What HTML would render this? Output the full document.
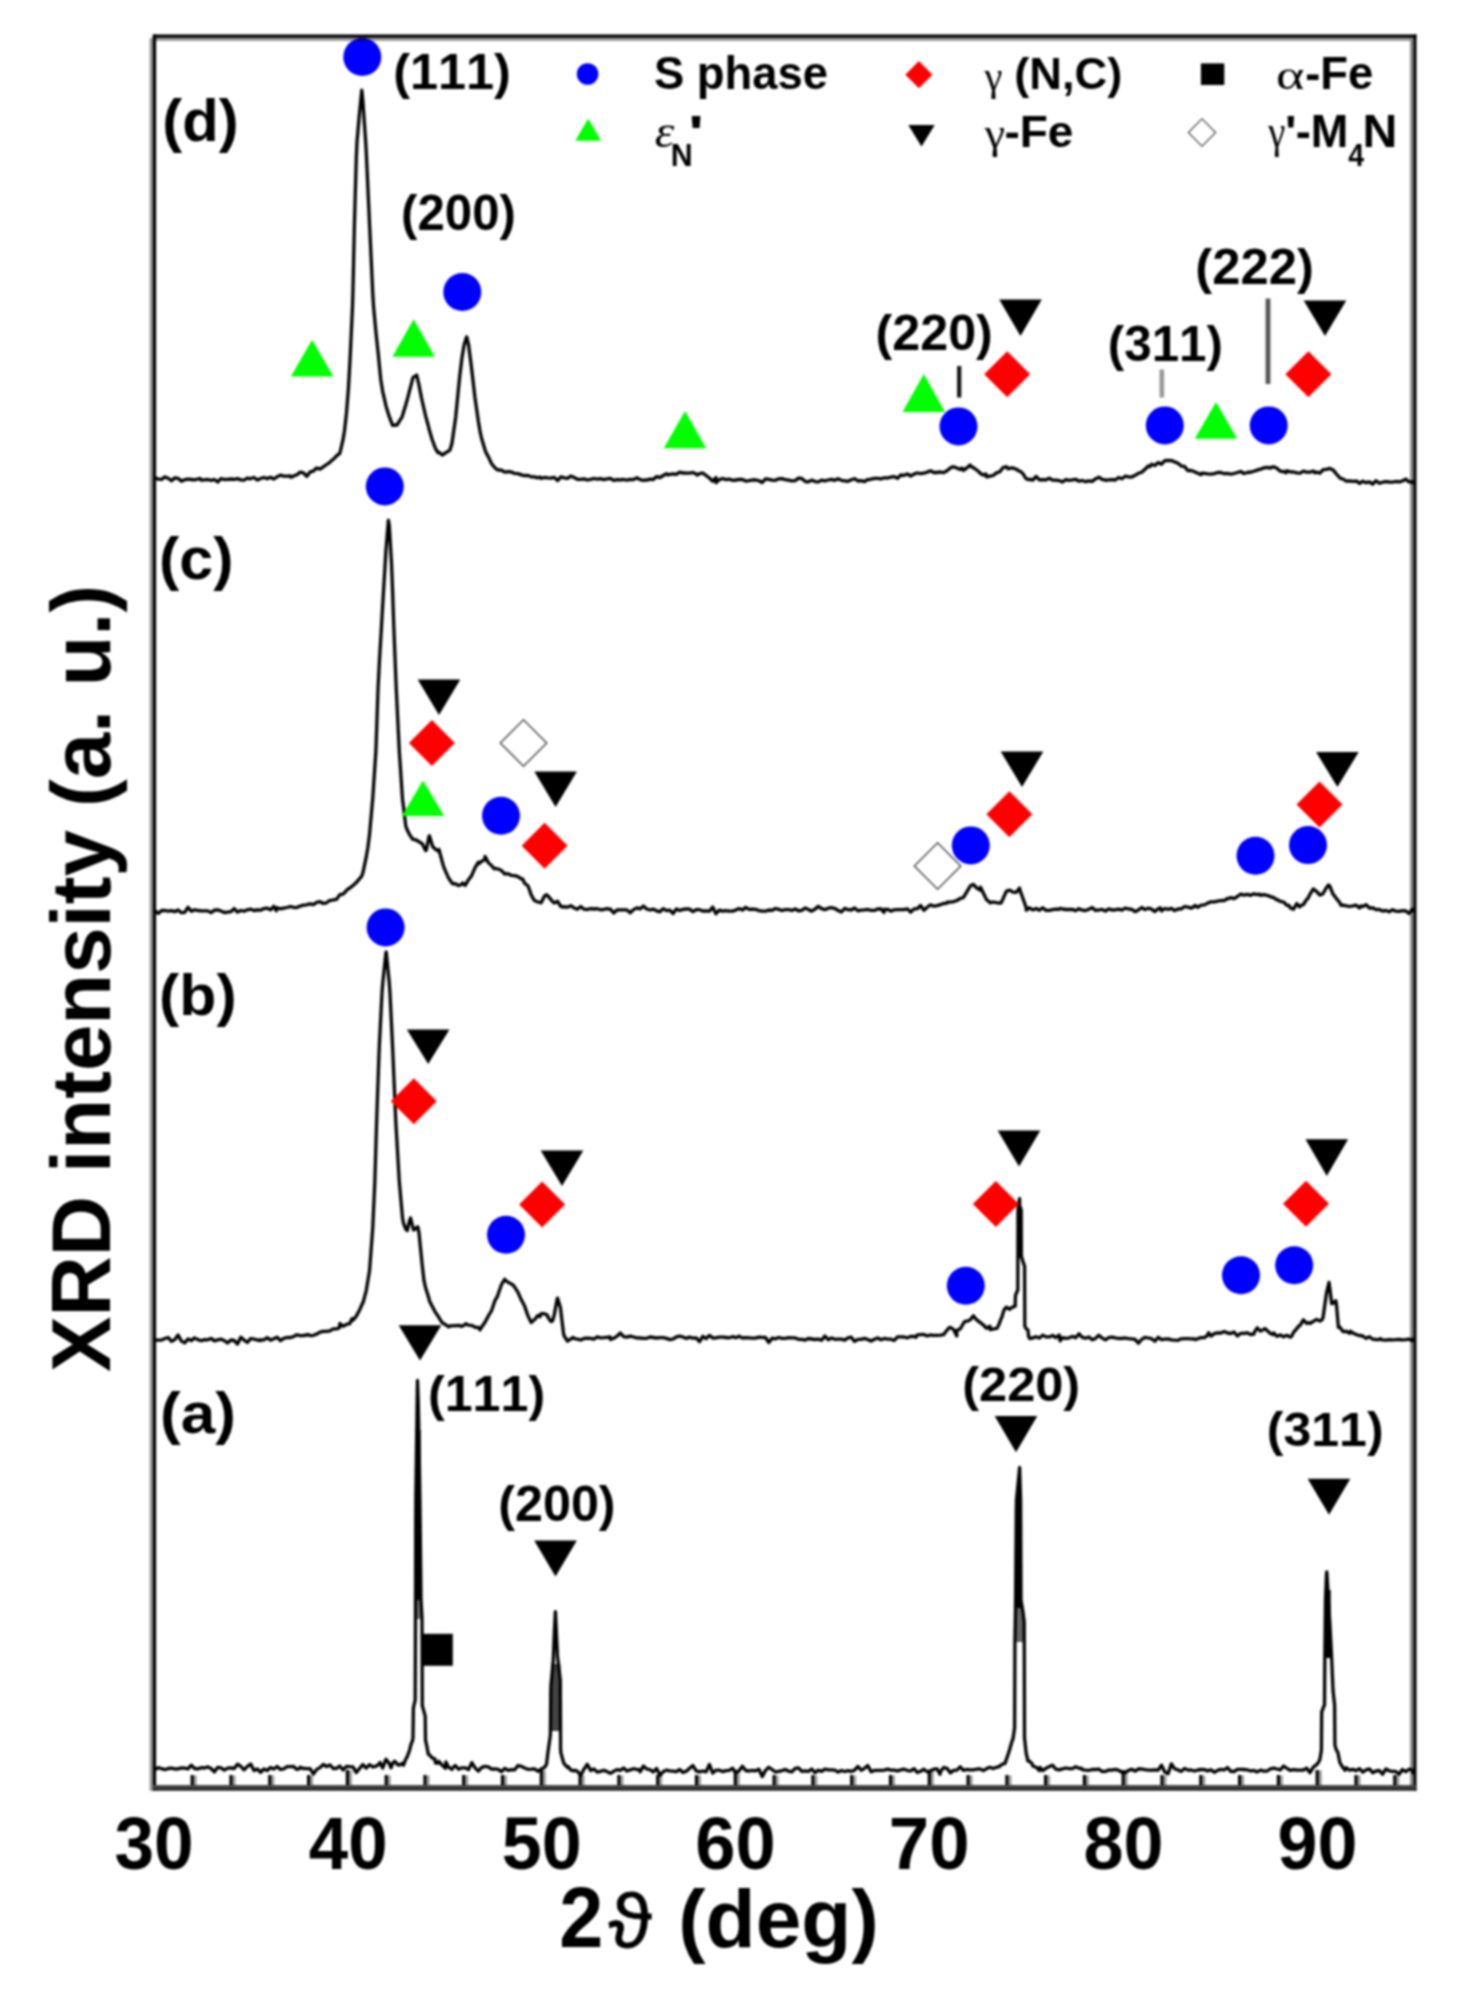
<!DOCTYPE html>
<html lang="en"><head><meta charset="utf-8"><title>XRD patterns</title>
<style>
html,body{margin:0;padding:0;background:#fff;}
body{width:1457px;height:2001px;overflow:hidden;}
svg{display:block;filter:blur(0.8px);}
text{font-kerning:none;}
</style></head><body>
<svg width="1457" height="2001" viewBox="0 0 1457 2001">
<rect width="1457" height="2001" fill="#fff"/>
<rect x="415.6" y="1430" width="5" height="172" fill="#000"/>
<rect x="416" y="1600" width="5.4" height="19" fill="#777"/>
<rect x="551" y="1664" width="9.4" height="67" fill="#444"/>
<rect x="1016.5" y="1490" width="4.6" height="122" fill="#000"/>
<rect x="1015" y="1608" width="8" height="34" fill="#666"/>
<rect x="1325.2" y="1590" width="5.5" height="68" fill="#000"/>
<rect x="1017.8" y="1208" width="3.8" height="50" fill="#000"/>
<path d="M155.0 477.9L158.3 479.1L161.6 479.3L164.9 476.9L168.2 478.3L171.5 480.8L174.8 477.8L178.1 478.3L181.4 481.2L184.7 479.7L188.0 479.2L191.3 479.5L194.6 479.8L197.9 479.0L200.0 478.5L201.2 480.2L204.5 479.8L207.8 479.5L211.1 480.3L214.4 479.5L217.7 482.0L221.0 478.7L224.3 479.5L227.6 479.3L230.9 479.0L234.2 479.4L237.5 478.6L240.8 479.9L244.1 480.2L247.4 478.0L250.0 478.9L250.7 478.5L254.0 477.5L257.3 480.0L260.6 478.5L263.9 477.5L267.2 478.6L270.5 477.3L273.8 479.0L277.1 476.8L280.4 475.1L283.7 476.1L287.0 476.2L290.3 476.0L291.0 477.2L293.6 476.0L296.9 474.8L300.2 472.1L303.5 472.9L306.8 476.3L310.1 471.9L313.4 471.2L316.0 468.5L316.7 468.0L320.0 469.1L323.3 466.8L326.6 464.5L329.9 462.3L332.0 460.0L333.2 459.5L336.5 455.9L339.8 453.4L340.0 452.6L343.1 439.4L344.5 430.7L346.4 413.7L348.4 388.8L349.7 366.1L350.4 352.1L352.5 306.9L353.0 288.8L354.4 225.0L356.3 158.0L357.0 141.8L359.6 111.9L359.6 112.1L361.8 90.2L362.9 101.4L363.6 111.9L365.7 142.0L366.2 150.9L369.5 223.1L369.6 225.1L372.8 294.2L373.6 307.0L376.1 333.9L378.4 355.1L379.4 365.8L380.8 379.7L382.7 391.5L383.0 392.9L386.0 405.9L388.5 414.2L389.3 416.7L392.6 425.3L392.6 425.4L395.9 425.0L397.0 425.2L399.2 421.4L402.0 417.1L402.5 415.5L405.8 404.8L407.7 397.9L409.1 392.4L412.4 379.8L413.0 377.4L415.7 375.8L416.7 375.1L419.0 385.1L421.4 397.4L422.3 401.5L425.6 415.9L428.0 424.5L428.9 428.5L432.2 439.7L435.5 448.6L437.9 452.6L438.8 452.1L442.1 455.0L443.4 454.4L445.4 452.9L448.7 451.0L450.0 450.0L452.0 443.0L455.3 419.9L455.7 417.0L458.6 387.4L459.8 375.5L461.9 358.2L464.0 345.5L465.2 341.3L466.7 336.9L468.5 344.3L470.8 362.0L471.8 370.2L475.0 397.9L475.1 398.5L478.4 421.6L480.4 433.2L481.7 438.8L485.0 449.8L486.0 452.6L488.3 456.6L491.6 463.7L494.9 467.8L497.0 469.6L498.2 470.0L501.5 470.2L504.8 472.1L508.1 471.6L511.4 471.8L513.0 472.8L514.7 473.3L518.0 473.6L521.3 474.9L524.6 475.6L527.9 475.5L531.2 476.8L534.5 476.8L537.8 477.8L540.0 477.1L541.1 478.3L544.4 477.5L547.7 477.9L551.0 478.2L551.6 477.9L554.3 477.4L557.6 480.6L560.9 476.8L564.2 477.9L567.5 478.4L570.8 476.1L574.1 477.5L577.4 479.3L580.7 479.3L584.0 478.9L587.3 480.0L590.6 479.4L593.9 478.5L597.2 479.2L600.5 478.7L603.8 479.6L607.1 478.9L610.4 478.3L613.7 480.4L617.0 479.7L620.3 479.9L623.6 479.5L626.9 480.1L630.2 479.3L633.5 479.6L636.8 477.8L640.1 479.6L643.4 480.3L646.0 479.9L646.7 480.2L650.0 479.2L653.3 479.5L656.6 476.6L659.9 477.6L663.2 475.5L666.5 473.7L668.0 474.9L669.8 474.4L673.1 473.8L676.4 474.4L679.7 472.2L683.0 473.2L684.0 472.8L686.3 473.1L689.6 473.2L692.9 472.5L696.2 473.9L697.0 475.0L699.5 473.7L702.8 473.0L706.1 475.5L709.4 478.0L712.7 481.2L716.0 477.6L716.0 482.7L719.3 479.6L722.6 478.5L725.9 479.6L729.2 479.1L732.5 480.3L735.8 480.0L739.1 479.5L742.4 479.5L745.7 481.1L749.0 480.7L752.3 480.0L755.6 480.0L758.9 480.7L762.2 482.5L765.5 478.8L768.8 479.4L772.1 480.1L775.4 480.3L778.7 478.8L782.0 478.6L785.3 479.7L788.6 480.2L791.9 480.9L795.2 480.6L798.5 478.1L801.8 478.5L804.0 480.3L805.1 481.5L808.4 481.8L811.7 480.1L815.0 481.6L818.3 481.9L821.6 480.2L824.9 480.8L828.2 480.0L831.5 479.3L834.8 480.3L838.1 478.7L841.4 480.4L844.7 480.8L848.0 481.3L851.3 479.8L854.6 478.7L857.9 481.0L861.2 480.7L864.5 481.7L867.0 479.7L867.8 479.8L871.1 479.1L874.4 478.3L877.7 478.4L881.0 478.9L884.3 477.8L887.6 478.0L890.9 477.2L894.2 476.6L897.5 478.3L900.8 475.0L904.1 475.3L907.4 474.0L910.7 476.0L914.0 474.1L915.0 473.7L917.3 473.0L920.6 473.7L923.9 473.2L927.2 472.1L930.5 470.8L933.8 472.5L937.1 472.5L940.4 472.0L943.0 472.7L943.7 472.6L947.0 470.8L950.3 468.0L952.6 466.8L953.6 466.9L956.9 468.0L960.2 469.5L962.0 468.0L963.5 470.4L966.8 467.9L970.1 465.0L971.5 466.7L973.4 467.7L976.7 470.0L980.0 472.8L980.0 473.2L983.3 475.1L985.8 473.9L986.6 476.9L989.9 476.1L993.2 475.5L996.5 472.9L999.8 471.7L1003.1 467.5L1006.4 466.7L1008.0 468.9L1009.7 468.2L1013.0 467.9L1016.3 469.3L1019.6 471.2L1021.0 471.8L1022.9 473.7L1026.2 478.8L1029.0 479.8L1029.5 479.2L1032.8 480.1L1036.1 476.4L1039.4 479.8L1042.7 479.6L1046.0 479.8L1049.3 478.2L1052.6 480.1L1055.9 480.2L1059.2 480.6L1062.5 482.0L1065.8 479.7L1069.1 480.3L1072.4 479.9L1075.7 479.3L1079.0 481.2L1082.3 480.5L1085.6 481.7L1088.9 480.8L1092.2 481.4L1095.5 478.9L1098.8 477.2L1102.1 479.3L1105.0 479.8L1105.4 480.4L1108.7 479.8L1112.0 479.7L1115.3 480.0L1118.6 477.5L1121.9 478.8L1125.2 476.2L1128.5 476.8L1131.0 477.2L1131.8 476.9L1135.1 475.3L1138.4 473.3L1141.7 472.2L1145.0 469.2L1148.3 466.0L1150.0 466.6L1151.6 464.3L1154.9 465.5L1158.2 462.6L1161.5 464.2L1164.8 460.6L1168.1 460.3L1169.7 460.7L1171.4 460.4L1174.7 461.9L1178.0 463.2L1181.3 466.1L1184.6 466.3L1185.8 468.2L1187.9 470.6L1191.2 470.5L1194.5 471.7L1197.8 473.3L1201.1 474.6L1202.0 473.1L1204.4 473.3L1207.7 473.9L1211.0 474.1L1214.3 473.6L1217.6 472.5L1220.9 472.5L1224.2 473.7L1227.5 473.5L1230.8 474.2L1234.1 473.5L1237.4 472.5L1240.7 471.5L1244.0 473.5L1247.3 472.5L1250.0 472.1L1250.6 472.3L1253.9 471.2L1257.2 470.1L1260.5 469.2L1263.8 467.9L1267.1 467.3L1270.4 468.1L1271.0 467.4L1273.7 466.8L1277.0 468.3L1280.3 471.4L1283.6 471.5L1286.0 472.7L1286.9 470.7L1290.2 471.9L1293.5 472.0L1296.8 472.8L1300.1 473.1L1303.4 471.1L1306.7 472.2L1310.0 472.2L1313.3 471.0L1315.0 472.9L1316.6 472.0L1319.9 473.1L1323.2 469.6L1326.5 469.4L1329.8 468.4L1331.0 468.9L1333.1 469.9L1336.4 474.0L1339.7 477.7L1340.6 478.4L1343.0 479.0L1346.3 481.2L1349.6 480.8L1352.9 481.3L1356.2 481.1L1356.8 481.1L1359.5 483.5L1362.8 481.2L1366.1 482.7L1369.4 481.8L1372.7 484.2L1376.0 480.7L1379.3 483.3L1382.6 482.2L1385.9 481.7L1389.2 482.0L1392.5 482.1L1395.8 481.5L1399.1 481.9L1402.4 481.0L1405.7 479.1L1409.0 481.9L1412.3 481.6L1413.0 482.9" fill="none" stroke="#000" stroke-width="3.3" stroke-linejoin="round" stroke-linecap="round"/>
<path d="M155.0 910.8L158.3 913.4L161.6 910.5L164.9 910.5L168.2 911.1L171.5 910.7L174.8 911.7L178.1 910.0L181.4 912.7L184.7 912.4L188.0 907.3L191.3 911.3L194.6 909.8L197.9 910.5L201.2 910.9L204.5 910.9L207.8 910.9L211.1 912.6L214.4 910.2L217.7 909.9L221.0 911.0L224.3 912.5L227.6 912.1L230.9 911.7L234.2 908.6L237.5 912.1L240.8 910.5L244.1 911.2L247.4 909.8L250.7 909.2L254.0 910.5L257.3 910.0L260.6 910.2L263.9 908.6L267.2 908.1L270.5 909.8L273.8 906.3L276.3 910.8L277.1 907.7L280.4 908.8L283.7 908.1L287.0 907.5L290.3 906.5L293.6 907.4L296.9 907.6L300.2 906.1L303.5 905.2L306.8 904.8L307.9 904.3L310.1 903.9L313.4 904.7L316.7 902.4L320.0 901.7L323.3 903.5L326.6 902.8L329.9 900.3L333.0 900.1L333.2 899.8L336.5 899.4L339.8 894.7L343.1 894.2L346.4 890.6L349.0 888.3L349.7 888.1L353.0 885.5L356.3 882.6L359.6 878.6L361.6 876.4L362.9 872.8L366.2 857.2L367.9 847.3L369.5 834.6L372.6 800.2L372.8 797.8L375.8 752.6L376.1 745.8L378.0 689.5L379.4 661.6L381.5 626.2L382.7 604.9L385.2 563.1L386.0 549.9L388.4 520.2L389.3 525.8L391.5 563.1L392.6 591.1L393.8 626.3L395.9 680.2L396.3 689.5L399.2 749.1L399.4 752.5L402.5 799.2L402.6 799.8L405.8 826.1L406.4 828.0L409.1 833.8L412.0 838.2L412.4 839.1L415.7 839.8L419.0 841.7L421.5 843.3L422.3 843.7L425.6 850.6L426.3 850.2L428.9 836.9L429.4 835.8L432.2 844.9L432.6 846.5L435.5 849.3L438.8 851.4L438.9 849.3L442.1 861.3L443.6 866.6L445.4 870.9L448.7 878.3L452.0 883.0L453.0 883.9L455.3 883.7L458.6 885.5L461.9 884.4L462.6 883.0L465.2 885.4L468.5 879.7L471.8 875.5L472.0 874.7L475.1 867.6L478.4 862.2L478.4 864.1L481.7 861.2L484.7 859.8L485.0 856.4L488.3 862.6L491.6 865.6L494.2 868.7L494.9 868.3L498.2 869.0L501.5 870.6L504.8 874.0L506.8 873.6L508.1 873.8L511.4 875.4L514.7 875.7L518.0 876.6L521.3 878.9L522.6 878.9L524.6 883.3L527.9 885.8L528.9 888.2L531.2 894.9L533.6 899.3L534.5 900.6L537.8 902.0L540.0 902.4L541.1 902.8L544.4 896.2L546.3 894.8L547.7 895.6L551.0 899.6L552.6 901.6L554.3 903.0L557.6 901.3L560.9 906.5L564.2 907.0L566.8 907.0L567.5 907.2L570.8 905.7L574.1 907.9L577.4 909.3L580.7 906.5L584.0 909.2L587.3 909.5L590.6 908.6L593.9 909.0L597.2 908.7L600.5 909.8L603.8 909.5L607.1 908.6L610.0 909.3L610.4 909.2L613.7 913.0L617.0 910.0L620.3 909.8L623.6 909.8L626.9 909.9L630.2 912.7L633.5 909.6L636.8 907.9L640.1 908.9L643.4 906.1L646.7 909.0L650.0 910.0L653.3 909.2L656.6 910.8L659.9 911.8L663.2 908.6L666.5 910.6L669.8 910.1L673.1 913.5L676.4 908.9L679.7 910.5L683.0 909.4L686.3 909.0L689.6 909.2L692.9 911.6L696.2 909.7L699.5 909.7L702.8 911.0L706.1 910.9L709.4 911.2L712.7 907.0L716.0 913.7L719.3 910.2L722.6 911.2L725.9 910.6L729.2 911.2L732.5 911.1L735.8 910.1L739.1 908.6L742.4 910.1L745.7 907.4L749.0 909.4L752.3 909.2L755.6 909.3L758.9 910.6L762.2 911.0L765.5 911.2L768.8 910.0L772.1 910.4L775.4 908.5L778.7 909.4L782.0 910.5L785.3 909.6L788.6 909.7L791.9 910.4L795.2 909.0L798.5 910.8L801.8 910.3L805.1 908.0L808.4 909.5L811.7 911.2L815.0 909.1L818.3 906.4L821.6 908.7L824.9 909.7L828.2 908.2L831.5 907.7L834.8 908.5L838.1 910.5L841.4 912.0L844.7 908.4L848.0 909.7L851.3 910.0L854.6 907.9L857.9 910.8L861.2 910.2L864.5 909.9L867.8 909.5L871.1 910.3L874.4 910.4L877.7 909.0L881.0 908.9L884.0 912.5L884.3 909.5L887.6 909.3L890.9 911.1L894.2 909.8L897.5 909.7L900.8 909.7L904.1 909.7L907.4 908.9L910.7 912.2L914.0 908.8L915.8 908.8L917.3 908.7L920.6 905.5L923.9 910.3L927.2 907.3L930.5 904.8L933.8 906.2L937.1 905.6L940.4 904.6L943.7 903.5L947.0 903.2L947.3 902.2L950.3 902.2L953.6 901.6L956.9 900.5L960.2 898.5L963.0 897.7L963.5 897.3L966.8 891.8L970.1 886.3L971.0 885.3L973.4 884.5L976.7 888.0L980.0 890.2L980.5 887.1L983.3 893.0L986.6 899.9L989.9 902.1L990.0 902.9L993.2 902.0L996.5 902.7L999.8 903.2L1001.0 903.0L1003.1 898.7L1006.4 891.2L1007.3 890.8L1009.7 890.2L1013.0 892.2L1016.3 892.3L1019.6 888.0L1020.0 890.4L1022.9 898.2L1026.2 907.7L1026.3 910.3L1029.5 907.8L1032.8 909.9L1036.1 908.5L1039.4 910.3L1042.7 907.8L1046.0 910.4L1049.3 910.4L1052.6 909.6L1055.9 909.1L1059.2 909.3L1060.0 908.3L1062.5 909.0L1065.8 909.5L1069.1 909.5L1072.4 909.4L1075.7 910.7L1079.0 908.7L1082.3 910.2L1085.6 910.6L1088.9 909.2L1092.2 907.6L1095.5 910.4L1098.8 910.0L1102.1 909.4L1105.4 911.1L1108.7 908.9L1112.0 910.0L1115.3 909.8L1118.6 909.2L1121.9 910.1L1125.2 908.1L1128.5 909.0L1131.8 909.4L1135.1 911.7L1138.4 910.0L1141.7 907.5L1145.0 909.6L1148.3 908.2L1151.6 909.1L1154.9 911.6L1158.2 908.8L1160.4 907.9L1161.5 911.0L1164.8 908.5L1168.1 909.3L1171.4 908.4L1174.7 910.6L1178.0 909.0L1181.3 908.9L1184.6 906.5L1187.9 907.2L1191.2 908.2L1194.5 906.3L1195.0 905.4L1197.8 907.3L1201.1 905.1L1204.4 904.9L1207.7 903.1L1211.0 901.8L1214.3 901.8L1217.6 901.1L1220.9 900.5L1224.2 900.7L1227.0 898.6L1227.5 898.9L1230.8 897.6L1234.1 898.6L1237.4 896.5L1240.7 894.2L1244.0 895.1L1247.3 894.4L1250.6 895.3L1253.9 893.8L1257.2 894.6L1259.5 894.2L1260.5 895.4L1263.8 894.6L1267.1 895.3L1270.4 896.6L1273.7 897.6L1277.0 899.9L1278.0 900.0L1280.3 901.4L1283.6 902.0L1286.9 905.3L1289.0 905.4L1290.2 907.9L1293.5 909.2L1296.8 903.6L1299.6 906.9L1300.1 906.1L1303.4 904.5L1306.7 899.3L1307.7 898.7L1310.0 894.2L1313.0 889.4L1313.3 888.9L1316.6 891.5L1319.9 895.0L1322.4 894.2L1323.2 893.3L1326.5 887.5L1328.5 885.0L1329.8 886.1L1333.1 894.3L1334.4 895.7L1336.4 898.6L1339.7 902.5L1341.0 905.3L1343.0 905.1L1346.3 905.9L1349.6 906.5L1352.9 905.9L1356.2 905.2L1359.5 908.0L1361.0 905.9L1362.8 906.5L1366.1 904.8L1369.4 908.0L1372.7 907.8L1376.0 909.6L1379.3 909.5L1382.6 911.1L1385.9 910.4L1389.2 911.8L1392.5 909.7L1395.8 911.2L1396.0 911.1L1399.1 911.3L1402.4 910.7L1405.7 910.8L1409.0 913.5L1412.3 909.3L1413.0 910.7" fill="none" stroke="#000" stroke-width="3.3" stroke-linejoin="round" stroke-linecap="round"/>
<path d="M155.0 1340.1L158.3 1340.2L161.6 1340.0L164.9 1338.5L168.2 1337.5L171.5 1341.4L174.8 1339.6L178.1 1335.1L181.4 1341.1L184.7 1342.9L188.0 1339.0L191.3 1340.6L194.6 1337.9L197.9 1339.6L201.2 1340.7L204.5 1339.6L207.8 1339.8L211.1 1338.4L214.4 1340.8L217.7 1339.8L221.0 1339.2L224.3 1340.6L227.6 1342.9L230.9 1340.0L234.2 1340.5L237.5 1344.0L240.8 1337.2L244.1 1340.1L247.4 1342.5L250.7 1338.5L254.0 1339.1L257.3 1340.0L260.5 1340.5L260.6 1340.0L263.9 1339.9L267.2 1337.6L270.5 1340.1L273.8 1338.8L277.1 1337.2L280.4 1340.7L283.7 1338.4L287.0 1337.5L290.3 1337.6L293.6 1336.5L296.9 1334.8L300.2 1335.6L303.5 1335.5L306.8 1335.0L307.9 1334.3L310.1 1335.6L313.4 1335.3L316.7 1334.1L320.0 1332.1L323.3 1331.3L326.6 1331.3L329.9 1330.8L333.2 1328.8L336.5 1328.9L339.5 1327.8L339.8 1323.5L343.1 1326.3L346.4 1324.3L349.7 1323.7L352.0 1318.6L353.0 1320.2L356.3 1316.1L359.6 1310.0L362.9 1302.5L363.0 1302.9L366.2 1290.8L369.5 1270.9L369.5 1271.1L372.6 1230.0L372.8 1226.6L374.8 1182.6L376.1 1139.5L376.7 1119.5L378.9 1056.4L379.4 1044.4L382.0 993.0L382.7 983.6L386.0 952.1L386.2 951.9L389.3 983.2L390.0 993.3L392.6 1047.2L393.0 1056.3L395.7 1119.6L395.9 1123.4L399.2 1180.1L399.4 1182.7L402.5 1217.8L403.6 1223.7L405.8 1229.0L407.3 1230.6L409.1 1222.3L410.5 1217.9L412.4 1225.4L413.7 1230.0L415.7 1228.4L417.8 1226.7L419.0 1232.9L420.9 1252.0L422.3 1265.8L424.0 1280.7L425.6 1287.8L428.9 1298.2L429.4 1300.7L432.2 1306.3L435.5 1312.6L437.3 1314.9L438.8 1317.4L442.1 1322.6L445.4 1324.7L448.7 1326.8L450.0 1325.9L452.0 1325.8L455.3 1325.6L458.6 1325.4L461.9 1326.3L465.2 1324.6L465.8 1323.7L468.5 1325.1L471.8 1325.4L475.1 1327.3L478.4 1327.4L480.0 1329.9L481.7 1327.0L485.0 1322.2L487.9 1316.9L488.3 1316.0L491.6 1310.6L494.9 1300.7L497.3 1296.6L498.2 1294.0L501.5 1284.5L504.8 1279.2L505.2 1280.5L508.1 1282.1L511.4 1284.1L513.1 1284.9L514.7 1287.2L518.0 1292.4L521.3 1299.9L522.6 1302.3L524.6 1306.1L527.9 1315.6L531.2 1322.6L532.0 1321.6L534.5 1319.7L537.8 1315.4L540.0 1316.6L541.1 1313.7L544.4 1313.6L547.7 1315.5L547.9 1317.3L551.0 1321.6L552.6 1320.7L554.3 1314.6L557.3 1298.2L557.6 1298.1L560.5 1307.9L560.9 1311.6L563.6 1334.1L564.2 1336.0L567.5 1341.1L570.8 1338.9L573.1 1337.5L574.1 1338.5L577.4 1339.1L580.7 1340.0L584.0 1338.4L587.3 1338.1L590.6 1338.4L593.9 1339.1L597.2 1336.9L600.5 1337.8L603.8 1337.7L607.1 1337.3L610.0 1337.0L610.4 1339.5L613.7 1338.3L617.0 1336.2L620.3 1333.0L623.6 1336.7L626.9 1337.2L630.2 1336.2L633.5 1337.0L636.8 1337.8L640.1 1338.0L643.4 1338.3L646.7 1338.3L650.0 1337.0L653.3 1337.5L656.6 1338.0L659.9 1337.7L663.2 1337.6L666.5 1338.4L669.8 1339.6L673.1 1339.0L676.4 1336.9L679.7 1336.1L683.0 1337.0L686.3 1338.4L689.6 1337.1L692.9 1338.2L696.2 1337.8L699.5 1341.7L702.8 1336.3L706.1 1338.7L709.4 1335.4L712.7 1338.0L716.0 1337.8L719.3 1337.1L722.6 1337.2L725.9 1337.5L729.2 1337.8L732.5 1336.7L735.8 1337.7L739.1 1336.2L742.0 1337.9L742.4 1338.0L745.7 1337.7L749.0 1337.9L752.3 1338.1L755.6 1338.1L758.9 1337.1L762.2 1337.3L765.5 1337.5L768.8 1342.5L772.1 1338.2L775.4 1338.8L778.7 1337.5L782.0 1338.4L785.3 1338.3L788.6 1337.7L791.9 1337.8L795.2 1337.9L798.5 1339.3L801.8 1339.4L805.1 1340.1L808.4 1338.5L811.7 1339.0L815.0 1339.5L818.3 1339.1L821.6 1340.3L824.9 1336.1L828.2 1339.7L831.5 1337.9L834.8 1339.3L838.1 1339.1L841.4 1339.2L844.7 1340.1L848.0 1337.8L851.3 1337.2L854.6 1341.4L857.9 1339.4L861.2 1339.3L864.5 1338.4L867.8 1339.5L868.4 1339.9L871.1 1341.0L874.4 1339.2L877.7 1338.0L881.0 1339.8L884.3 1338.4L887.6 1339.1L890.9 1339.2L894.2 1340.5L897.5 1336.8L900.8 1336.9L904.1 1337.0L907.4 1337.8L910.7 1336.5L914.0 1336.3L915.8 1337.3L917.3 1334.9L920.6 1334.6L923.9 1334.4L927.2 1335.9L930.5 1335.0L933.8 1335.3L937.1 1335.4L940.4 1335.2L943.7 1334.6L944.2 1333.7L947.0 1330.2L949.0 1327.8L950.3 1327.3L953.6 1329.5L956.8 1335.9L956.9 1330.3L960.2 1329.0L963.5 1323.2L964.7 1321.6L966.8 1321.2L970.1 1320.0L973.4 1315.7L975.7 1318.9L976.7 1319.9L980.0 1322.4L983.3 1324.8L983.6 1325.3L986.6 1328.2L989.9 1326.2L990.0 1329.5L993.2 1329.0L996.5 1328.3L997.0 1328.4L999.6 1323.0L999.8 1321.9L1002.4 1315.6L1003.1 1312.6L1004.5 1309.2L1006.4 1307.2L1009.7 1309.3L1010.0 1308.4L1013.0 1306.9L1015.2 1306.1L1015.4 1296.1L1016.3 1293.3L1017.8 1290.0L1018.0 1210.0L1019.6 1198.7L1019.6 1205.2L1021.2 1210.0L1021.4 1256.0L1022.9 1261.7L1024.6 1266.0L1024.8 1326.0L1026.2 1328.9L1028.0 1329.9L1028.5 1335.9L1029.5 1338.5L1032.0 1338.2L1032.8 1337.9L1036.1 1336.7L1039.4 1338.1L1042.7 1335.1L1046.0 1336.9L1049.3 1336.9L1052.6 1335.5L1055.9 1337.5L1059.2 1335.0L1060.0 1340.9L1062.5 1337.6L1065.8 1338.4L1069.1 1337.8L1072.4 1336.4L1075.7 1337.7L1079.0 1333.8L1082.3 1337.4L1085.6 1338.2L1088.9 1337.0L1092.2 1339.8L1095.5 1338.4L1098.8 1335.3L1102.1 1338.1L1105.4 1339.8L1108.7 1337.7L1112.0 1337.1L1115.3 1337.9L1118.6 1338.5L1121.9 1338.4L1125.2 1338.0L1128.5 1338.7L1131.8 1338.8L1135.1 1339.4L1138.4 1343.3L1141.7 1339.3L1145.0 1337.3L1148.3 1338.0L1151.6 1338.7L1154.9 1341.3L1158.2 1337.3L1161.5 1339.7L1164.8 1339.2L1168.1 1338.8L1171.4 1339.8L1174.7 1340.2L1178.0 1340.3L1181.3 1338.8L1184.6 1338.7L1187.9 1338.7L1191.2 1338.8L1194.5 1338.8L1195.2 1339.6L1197.8 1338.7L1201.1 1337.7L1204.4 1337.7L1207.7 1335.1L1208.6 1332.7L1211.0 1336.1L1214.3 1333.7L1217.6 1332.8L1220.9 1333.0L1224.2 1331.6L1227.5 1333.0L1230.8 1333.5L1234.1 1332.0L1237.4 1336.0L1240.7 1333.3L1244.0 1333.4L1247.3 1332.8L1250.6 1334.6L1253.9 1334.1L1254.0 1332.9L1257.2 1327.8L1260.5 1331.1L1263.8 1329.4L1264.8 1328.5L1267.1 1330.5L1270.4 1333.4L1272.9 1334.5L1273.7 1332.9L1277.0 1336.3L1280.3 1335.0L1283.6 1336.8L1286.9 1335.3L1290.2 1337.1L1291.6 1336.4L1293.5 1332.4L1296.8 1328.7L1298.3 1326.5L1300.1 1325.4L1303.4 1319.8L1306.7 1323.4L1310.0 1322.6L1310.3 1323.3L1313.3 1321.4L1316.6 1319.4L1319.9 1321.1L1322.4 1319.4L1323.2 1316.5L1325.0 1303.5L1326.5 1293.2L1329.0 1282.4L1329.8 1288.2L1331.7 1303.8L1333.1 1303.3L1335.8 1300.7L1336.4 1304.2L1338.4 1327.3L1339.7 1327.0L1343.0 1331.5L1346.3 1331.3L1349.6 1333.2L1350.5 1331.2L1352.9 1333.1L1356.2 1334.6L1359.5 1335.5L1362.8 1336.0L1366.1 1338.3L1369.4 1336.7L1372.7 1339.2L1376.0 1339.5L1379.3 1339.6L1380.0 1338.6L1382.6 1339.9L1385.9 1340.1L1389.2 1339.7L1392.5 1339.8L1395.8 1339.7L1399.1 1339.5L1402.4 1339.8L1405.7 1339.6L1409.0 1339.1L1412.3 1340.7L1413.0 1339.2" fill="none" stroke="#000" stroke-width="3.3" stroke-linejoin="round" stroke-linecap="round"/>
<path d="M155.0 1769.5L158.3 1767.6L161.6 1768.7L164.9 1769.7L168.2 1768.5L171.5 1768.1L174.8 1769.0L178.1 1768.8L181.4 1767.9L184.7 1768.2L188.0 1768.9L191.3 1765.2L194.6 1768.5L197.9 1768.9L201.2 1767.7L204.5 1768.0L207.8 1766.9L211.1 1768.5L214.4 1771.9L217.7 1767.3L221.0 1767.9L224.3 1770.1L227.6 1768.1L230.9 1767.8L234.2 1768.6L237.5 1764.2L240.8 1766.4L244.1 1769.8L247.4 1766.4L250.7 1764.1L254.0 1770.6L257.3 1769.0L260.6 1772.2L263.9 1769.0L267.2 1770.5L270.5 1767.5L273.8 1769.0L277.1 1766.5L280.4 1769.4L283.7 1768.8L287.0 1766.7L290.3 1766.6L293.6 1766.5L296.9 1769.4L300.0 1768.5L300.2 1767.2L303.5 1768.5L306.8 1768.6L310.1 1768.6L313.4 1774.0L316.7 1769.4L320.0 1767.6L323.3 1764.5L326.6 1766.5L329.9 1764.9L333.2 1768.5L336.5 1768.4L339.8 1766.0L343.1 1770.0L346.4 1766.3L349.7 1766.7L353.0 1766.9L356.3 1772.6L359.6 1768.4L362.9 1764.6L366.2 1768.1L369.5 1764.7L372.8 1767.0L376.1 1766.2L379.4 1763.9L380.0 1762.5L382.7 1768.0L386.0 1759.2L389.3 1763.6L391.0 1767.9L392.6 1763.6L394.5 1761.2L395.9 1762.3L397.5 1764.6L399.2 1765.1L402.5 1763.3L403.5 1765.3L405.5 1759.7L405.8 1759.3L407.5 1755.9L409.1 1751.6L409.5 1750.4L411.0 1744.4L412.4 1741.0L413.0 1738.0L413.4 1707.9L415.2 1700.0L415.5 1618.0L415.7 1529.7L415.8 1500.0L417.2 1400.0L417.5 1380.5L418.2 1400.0L419.0 1439.1L419.9 1500.0L421.0 1599.9L422.0 1618.0L422.3 1705.9L422.3 1705.6L425.2 1716.1L425.5 1740.0L425.6 1740.7L427.0 1747.0L428.3 1754.1L428.9 1754.4L431.6 1757.1L432.2 1758.0L434.9 1758.9L435.5 1763.0L438.2 1763.0L438.8 1761.3L442.1 1765.1L445.4 1768.2L445.9 1761.9L448.7 1767.4L452.0 1769.4L452.6 1767.9L455.3 1765.6L458.6 1769.2L461.9 1767.8L465.2 1767.8L468.5 1769.6L471.8 1762.6L475.1 1767.8L478.4 1771.1L481.7 1767.4L485.0 1766.4L488.3 1766.8L491.6 1769.2L494.9 1768.8L498.2 1769.3L501.5 1771.7L504.8 1768.3L508.1 1770.4L511.4 1769.6L514.7 1769.8L518.0 1765.5L521.3 1766.3L524.6 1767.9L527.9 1769.3L531.2 1769.1L534.5 1768.8L537.8 1771.3L540.6 1769.7L541.1 1769.0L544.4 1767.5L546.5 1764.4L547.7 1754.4L548.0 1752.0L550.4 1735.0L550.8 1690.0L551.0 1685.0L553.3 1660.0L554.3 1633.3L555.4 1611.6L557.4 1654.4L557.6 1657.2L560.3 1680.0L560.6 1750.0L560.9 1752.9L563.5 1762.2L564.2 1763.9L567.5 1767.5L568.0 1766.5L570.8 1770.1L574.1 1770.8L575.0 1770.2L577.4 1771.2L580.7 1775.4L584.0 1769.1L587.3 1764.3L590.6 1770.6L593.9 1769.0L597.2 1772.1L600.5 1771.4L603.8 1770.3L607.1 1771.6L610.4 1773.4L613.7 1771.3L617.0 1769.6L620.3 1770.4L623.6 1768.0L626.9 1770.9L630.2 1769.9L633.5 1768.7L636.8 1769.5L640.0 1769.9L640.1 1771.8L643.4 1766.1L646.7 1769.0L650.0 1769.6L653.3 1772.0L656.6 1768.4L659.9 1775.3L663.2 1771.6L666.5 1770.2L669.8 1770.9L673.1 1771.1L676.4 1771.6L679.7 1769.5L683.0 1772.4L686.3 1771.3L689.6 1768.3L692.9 1765.6L696.2 1770.9L699.5 1771.9L702.8 1771.0L706.1 1771.8L709.4 1764.4L712.7 1773.1L716.0 1770.1L719.3 1770.2L722.6 1771.6L725.9 1770.7L729.2 1770.3L732.5 1768.2L735.8 1772.8L739.1 1770.7L742.4 1766.3L745.7 1770.5L749.0 1771.0L752.3 1770.4L755.6 1770.8L758.9 1769.1L762.2 1776.6L765.5 1770.4L768.8 1767.3L772.1 1769.5L775.4 1772.0L778.7 1771.3L782.0 1770.6L785.3 1769.5L788.6 1771.2L791.9 1771.8L795.2 1768.4L798.5 1767.8L801.8 1771.4L805.1 1770.8L808.4 1771.3L811.7 1769.0L815.0 1772.6L818.3 1770.2L821.6 1771.4L824.9 1769.2L828.2 1769.9L831.5 1769.9L834.8 1770.1L838.1 1772.1L841.4 1770.5L844.7 1771.5L848.0 1770.7L851.3 1771.4L854.6 1770.2L857.9 1766.4L861.2 1770.3L864.5 1768.3L867.8 1765.6L871.1 1771.8L874.4 1770.4L877.7 1770.4L881.0 1770.4L884.3 1770.1L887.6 1769.2L890.9 1770.1L894.2 1770.2L897.5 1770.9L900.8 1769.9L904.1 1769.2L907.4 1770.6L910.7 1770.8L914.0 1768.7L917.3 1772.5L920.6 1771.2L923.9 1769.3L927.2 1771.8L930.5 1770.8L933.8 1769.1L937.1 1768.8L940.0 1774.2L940.4 1771.8L943.7 1767.5L947.0 1768.3L950.3 1772.9L953.6 1770.4L956.9 1770.1L960.2 1766.8L963.5 1770.3L966.8 1769.5L970.1 1769.8L973.4 1769.9L976.7 1769.2L980.0 1768.9L983.3 1770.6L986.6 1768.6L989.9 1767.3L993.2 1768.5L996.5 1767.3L999.8 1766.3L1000.0 1765.6L1003.1 1763.9L1005.0 1763.4L1006.4 1759.4L1008.8 1752.2L1009.7 1749.3L1012.3 1740.3L1013.0 1739.1L1014.6 1728.0L1014.9 1642.0L1015.5 1610.0L1016.3 1511.9L1016.5 1500.0L1019.6 1468.0L1019.6 1467.5L1020.6 1500.0L1021.0 1600.0L1022.9 1611.4L1024.2 1622.0L1024.5 1738.0L1026.2 1753.4L1028.0 1761.0L1029.5 1761.2L1032.0 1763.6L1032.8 1766.0L1036.1 1767.2L1039.4 1770.5L1040.0 1767.4L1042.7 1770.6L1046.0 1768.3L1049.3 1766.6L1052.6 1765.2L1055.9 1769.2L1059.2 1769.8L1062.5 1768.8L1065.8 1768.0L1069.1 1768.6L1072.4 1768.6L1075.7 1766.8L1079.0 1768.3L1081.3 1768.2L1082.3 1769.7L1085.6 1770.2L1088.9 1770.3L1092.2 1769.5L1095.5 1769.5L1098.8 1769.1L1102.1 1771.5L1105.4 1771.4L1108.7 1769.9L1112.0 1770.2L1115.3 1769.3L1118.6 1770.3L1121.9 1772.2L1125.2 1772.7L1128.5 1770.3L1131.8 1769.3L1135.1 1771.1L1138.4 1769.0L1141.7 1769.0L1145.0 1769.6L1148.3 1770.1L1151.6 1770.1L1154.9 1770.0L1158.2 1770.2L1161.5 1765.2L1164.8 1772.0L1168.1 1773.7L1171.4 1763.9L1174.7 1768.8L1178.0 1769.9L1181.3 1771.4L1184.6 1768.4L1187.9 1770.1L1191.2 1770.0L1194.5 1771.0L1197.8 1770.0L1201.1 1769.5L1204.4 1769.6L1207.7 1770.9L1211.0 1769.7L1214.3 1772.3L1217.6 1770.4L1220.9 1769.3L1224.2 1770.0L1227.5 1767.5L1230.8 1771.4L1234.1 1771.5L1237.4 1769.4L1240.7 1769.4L1244.0 1769.5L1247.3 1769.8L1250.6 1771.0L1253.9 1770.4L1257.2 1771.9L1260.5 1770.1L1263.8 1771.1L1267.1 1771.0L1270.4 1768.8L1273.7 1768.2L1277.0 1769.0L1280.3 1769.8L1283.6 1766.0L1286.9 1768.3L1290.2 1770.4L1293.5 1769.7L1296.8 1770.0L1300.1 1770.2L1303.4 1770.0L1306.7 1768.1L1310.0 1772.7L1310.0 1772.6L1313.3 1767.1L1315.0 1765.9L1316.6 1764.6L1318.5 1762.4L1319.9 1759.5L1321.4 1750.0L1321.7 1712.0L1323.2 1707.9L1324.5 1705.0L1324.8 1660.0L1325.5 1600.0L1326.5 1573.8L1326.8 1571.8L1328.5 1600.3L1329.8 1622.5L1331.5 1655.0L1333.0 1690.0L1333.1 1691.1L1334.6 1705.0L1334.9 1745.0L1336.4 1750.2L1337.7 1751.8L1339.7 1761.8L1340.7 1764.1L1343.0 1767.5L1345.0 1770.3L1346.3 1767.7L1349.6 1770.2L1352.9 1769.4L1356.2 1770.7L1359.5 1768.6L1362.8 1772.1L1366.1 1769.9L1369.4 1768.9L1372.7 1772.7L1376.0 1771.0L1379.3 1770.5L1382.6 1774.2L1385.9 1769.0L1389.2 1770.8L1392.5 1771.4L1395.8 1771.4L1399.1 1774.2L1402.4 1769.5L1405.7 1771.7L1409.0 1769.2L1412.3 1770.0L1413.0 1772.8" fill="none" stroke="#000" stroke-width="3.3" stroke-linejoin="round" stroke-linecap="round"/>
<circle cx="362.3" cy="57.0" r="19.0" fill="#0000ff"/>
<circle cx="462.3" cy="292.0" r="19.0" fill="#0000ff"/>
<circle cx="958.5" cy="426.4" r="19.0" fill="#0000ff"/>
<circle cx="1164.8" cy="425.4" r="19.0" fill="#0000ff"/>
<circle cx="1268.7" cy="425.4" r="19.0" fill="#0000ff"/>
<circle cx="384.8" cy="486.4" r="19.0" fill="#0000ff"/>
<circle cx="501.0" cy="815.7" r="19.0" fill="#0000ff"/>
<circle cx="970.8" cy="845.4" r="19.0" fill="#0000ff"/>
<circle cx="1255.5" cy="855.8" r="19.0" fill="#0000ff"/>
<circle cx="1308.0" cy="845.1" r="19.0" fill="#0000ff"/>
<circle cx="385.6" cy="927.4" r="19.0" fill="#0000ff"/>
<circle cx="506.0" cy="1234.7" r="19.0" fill="#0000ff"/>
<circle cx="965.8" cy="1285.8" r="19.0" fill="#0000ff"/>
<circle cx="1241.0" cy="1275.3" r="19.0" fill="#0000ff"/>
<circle cx="1294.2" cy="1265.2" r="19.0" fill="#0000ff"/>
<path d="M290.9 376.6L333.4 376.6L312.1 339.8Z" fill="#00ff00"/>
<path d="M392.4 356.7L434.9 356.7L413.6 319.3Z" fill="#00ff00"/>
<path d="M663.8 448.3L706.2 448.3L685.0 411.0Z" fill="#00ff00"/>
<path d="M902.5 412.0L945.0 412.0L923.8 374.0Z" fill="#00ff00"/>
<path d="M1194.8 438.7L1237.2 438.7L1216.0 402.0Z" fill="#00ff00"/>
<path d="M401.8 816.0L444.2 816.0L423.0 780.5Z" fill="#00ff00"/>
<path d="M999.2 299.5L1041.8 299.5L1020.5 336.0Z" fill="#000"/>
<path d="M1303.7 300.5L1346.3 300.5L1325.0 336.0Z" fill="#000"/>
<path d="M417.7 679.5L460.3 679.5L439.0 715.0Z" fill="#000"/>
<path d="M534.3 771.5L576.9 771.5L555.6 807.0Z" fill="#000"/>
<path d="M1000.7 751.5L1043.3 751.5L1022.0 787.0Z" fill="#000"/>
<path d="M1316.1 752.0L1358.7 752.0L1337.4 787.0Z" fill="#000"/>
<path d="M406.9 1029.5L449.5 1029.5L428.2 1064.0Z" fill="#000"/>
<path d="M540.7 1150.5L583.3 1150.5L562.0 1186.0Z" fill="#000"/>
<path d="M997.7 1130.5L1040.3 1130.5L1019.0 1166.5Z" fill="#000"/>
<path d="M1305.5 1139.3L1348.1 1139.3L1326.8 1176.0Z" fill="#000"/>
<path d="M398.7 1325.3L441.3 1325.3L420.0 1360.5Z" fill="#000"/>
<path d="M534.2 1540.5L576.8 1540.5L555.5 1576.5Z" fill="#000"/>
<path d="M994.7 1415.9L1037.3 1415.9L1016.0 1452.3Z" fill="#000"/>
<path d="M1307.7 1478.7L1350.3 1478.7L1329.0 1514.7Z" fill="#000"/>
<path d="M984.2 374.2L1007.2 351.2L1030.2 374.2L1007.2 397.2Z" fill="#ff0000"/>
<path d="M1285.4 374.2L1308.4 351.2L1331.4 374.2L1308.4 397.2Z" fill="#ff0000"/>
<path d="M408.9 743.0L431.9 720.0L454.9 743.0L431.9 766.0Z" fill="#ff0000"/>
<path d="M521.6 845.8L544.6 822.8L567.6 845.8L544.6 868.8Z" fill="#ff0000"/>
<path d="M986.4 814.2L1009.4 791.2L1032.4 814.2L1009.4 837.2Z" fill="#ff0000"/>
<path d="M1296.5 804.4L1319.5 781.4L1342.5 804.4L1319.5 827.4Z" fill="#ff0000"/>
<path d="M390.8 1101.3L413.8 1078.3L436.8 1101.3L413.8 1124.3Z" fill="#ff0000"/>
<path d="M519.1 1204.4L542.1 1181.4L565.1 1204.4L542.1 1227.4Z" fill="#ff0000"/>
<path d="M972.8 1203.9L995.8 1180.9L1018.8 1203.9L995.8 1226.9Z" fill="#ff0000"/>
<path d="M1283.0 1203.7L1306.0 1180.7L1329.0 1203.7L1306.0 1226.7Z" fill="#ff0000"/>
<path d="M500.3 743.0L523.5 719.8L546.7 743.0L523.5 766.2Z" fill="#fff" stroke="#555" stroke-width="1.6"/>
<path d="M914.4 866.0L937.6 842.8L960.8 866.0L937.6 889.2Z" fill="#fff" stroke="#555" stroke-width="1.6"/>
<rect x="422.2" y="1633.8" width="30.6" height="32" fill="#000"/>
<line x1="959.2" y1="366" x2="959.2" y2="397.5" stroke="#111" stroke-width="4.2"/>
<line x1="1161.8" y1="369.5" x2="1161.8" y2="397.5" stroke="#999" stroke-width="4.6"/>
<line x1="1268.0" y1="298.5" x2="1268.0" y2="384" stroke="#555" stroke-width="4.8"/>
<circle cx="587.6" cy="74.0" r="10.8" fill="#0000ff"/>
<path d="M575.3 140.8L601.1 140.8L588.2 118.5Z" fill="#00ff00"/>
<path d="M905.3 74.7L918.9 61.1L932.5 74.7L918.9 88.3Z" fill="#ff0000"/>
<path d="M908.3 124.9L934.7 124.9L921.5 146.5Z" fill="#000"/>
<rect x="1200.9" y="63.4" width="23.4" height="21.6" fill="#000"/>
<path d="M1188.4 132.5L1202.0 118.9L1215.6 132.5L1202.0 146.1Z" fill="#fff" stroke="#555" stroke-width="1.3"/>
<rect x="190.6" y="1775.0" width="3.2" height="11.0" fill="#000"/>
<rect x="193.8" y="1775.5" width="2.9" height="10.5" fill="#000" fill-opacity="0.4"/>
<rect x="229.4" y="1775.0" width="3.2" height="11.0" fill="#000"/>
<rect x="232.6" y="1775.5" width="2.9" height="10.5" fill="#000" fill-opacity="0.4"/>
<rect x="268.2" y="1775.0" width="3.2" height="11.0" fill="#000"/>
<rect x="271.4" y="1775.5" width="2.9" height="10.5" fill="#000" fill-opacity="0.4"/>
<rect x="307.0" y="1775.0" width="3.2" height="11.0" fill="#000"/>
<rect x="310.2" y="1775.5" width="2.9" height="10.5" fill="#000" fill-opacity="0.4"/>
<rect x="345.8" y="1770.0" width="3.2" height="16.0" fill="#000"/>
<rect x="349.0" y="1770.5" width="2.9" height="15.5" fill="#000" fill-opacity="0.4"/>
<rect x="384.6" y="1775.0" width="3.2" height="11.0" fill="#000"/>
<rect x="387.8" y="1775.5" width="2.9" height="10.5" fill="#000" fill-opacity="0.4"/>
<rect x="423.4" y="1775.0" width="3.2" height="11.0" fill="#000"/>
<rect x="426.6" y="1775.5" width="2.9" height="10.5" fill="#000" fill-opacity="0.4"/>
<rect x="462.1" y="1775.0" width="3.2" height="11.0" fill="#000"/>
<rect x="465.3" y="1775.5" width="2.9" height="10.5" fill="#000" fill-opacity="0.4"/>
<rect x="500.9" y="1775.0" width="3.2" height="11.0" fill="#000"/>
<rect x="504.1" y="1775.5" width="2.9" height="10.5" fill="#000" fill-opacity="0.4"/>
<rect x="539.7" y="1770.0" width="3.2" height="16.0" fill="#000"/>
<rect x="542.9" y="1770.5" width="2.9" height="15.5" fill="#000" fill-opacity="0.4"/>
<rect x="578.5" y="1775.0" width="3.2" height="11.0" fill="#000"/>
<rect x="581.7" y="1775.5" width="2.9" height="10.5" fill="#000" fill-opacity="0.4"/>
<rect x="617.3" y="1775.0" width="3.2" height="11.0" fill="#000"/>
<rect x="620.5" y="1775.5" width="2.9" height="10.5" fill="#000" fill-opacity="0.4"/>
<rect x="656.1" y="1775.0" width="3.2" height="11.0" fill="#000"/>
<rect x="659.3" y="1775.5" width="2.9" height="10.5" fill="#000" fill-opacity="0.4"/>
<rect x="694.9" y="1775.0" width="3.2" height="11.0" fill="#000"/>
<rect x="698.1" y="1775.5" width="2.9" height="10.5" fill="#000" fill-opacity="0.4"/>
<rect x="733.7" y="1770.0" width="3.2" height="16.0" fill="#000"/>
<rect x="736.9" y="1770.5" width="2.9" height="15.5" fill="#000" fill-opacity="0.4"/>
<rect x="772.5" y="1775.0" width="3.2" height="11.0" fill="#000"/>
<rect x="775.7" y="1775.5" width="2.9" height="10.5" fill="#000" fill-opacity="0.4"/>
<rect x="811.3" y="1775.0" width="3.2" height="11.0" fill="#000"/>
<rect x="814.5" y="1775.5" width="2.9" height="10.5" fill="#000" fill-opacity="0.4"/>
<rect x="850.1" y="1775.0" width="3.2" height="11.0" fill="#000"/>
<rect x="853.3" y="1775.5" width="2.9" height="10.5" fill="#000" fill-opacity="0.4"/>
<rect x="888.9" y="1775.0" width="3.2" height="11.0" fill="#000"/>
<rect x="892.1" y="1775.5" width="2.9" height="10.5" fill="#000" fill-opacity="0.4"/>
<rect x="927.7" y="1770.0" width="3.2" height="16.0" fill="#000"/>
<rect x="930.9" y="1770.5" width="2.9" height="15.5" fill="#000" fill-opacity="0.4"/>
<rect x="966.5" y="1775.0" width="3.2" height="11.0" fill="#000"/>
<rect x="969.7" y="1775.5" width="2.9" height="10.5" fill="#000" fill-opacity="0.4"/>
<rect x="1005.3" y="1775.0" width="3.2" height="11.0" fill="#000"/>
<rect x="1008.5" y="1775.5" width="2.9" height="10.5" fill="#000" fill-opacity="0.4"/>
<rect x="1044.0" y="1775.0" width="3.2" height="11.0" fill="#000"/>
<rect x="1047.2" y="1775.5" width="2.9" height="10.5" fill="#000" fill-opacity="0.4"/>
<rect x="1082.8" y="1775.0" width="3.2" height="11.0" fill="#000"/>
<rect x="1086.0" y="1775.5" width="2.9" height="10.5" fill="#000" fill-opacity="0.4"/>
<rect x="1121.6" y="1770.0" width="3.2" height="16.0" fill="#000"/>
<rect x="1124.8" y="1770.5" width="2.9" height="15.5" fill="#000" fill-opacity="0.4"/>
<rect x="1160.4" y="1775.0" width="3.2" height="11.0" fill="#000"/>
<rect x="1163.6" y="1775.5" width="2.9" height="10.5" fill="#000" fill-opacity="0.4"/>
<rect x="1199.2" y="1775.0" width="3.2" height="11.0" fill="#000"/>
<rect x="1202.4" y="1775.5" width="2.9" height="10.5" fill="#000" fill-opacity="0.4"/>
<rect x="1238.0" y="1775.0" width="3.2" height="11.0" fill="#000"/>
<rect x="1241.2" y="1775.5" width="2.9" height="10.5" fill="#000" fill-opacity="0.4"/>
<rect x="1276.8" y="1775.0" width="3.2" height="11.0" fill="#000"/>
<rect x="1280.0" y="1775.5" width="2.9" height="10.5" fill="#000" fill-opacity="0.4"/>
<rect x="1315.6" y="1770.0" width="3.2" height="16.0" fill="#000"/>
<rect x="1318.8" y="1770.5" width="2.9" height="15.5" fill="#000" fill-opacity="0.4"/>
<rect x="1354.4" y="1775.0" width="3.2" height="11.0" fill="#000"/>
<rect x="1357.6" y="1775.5" width="2.9" height="10.5" fill="#000" fill-opacity="0.4"/>
<rect x="1393.2" y="1775.0" width="3.2" height="11.0" fill="#000"/>
<rect x="1396.4" y="1775.5" width="2.9" height="10.5" fill="#000" fill-opacity="0.4"/>
<rect x="149.6" y="38" width="3.3" height="1752.8" fill="#000" fill-opacity="0.4"/>
<rect x="152.8" y="34.5" width="3.3" height="1756.3" fill="#000"/>
<rect x="1410.0" y="38" width="3.4" height="1747" fill="#000" fill-opacity="0.45"/>
<rect x="1413.3" y="34.5" width="3.2" height="1756.3" fill="#000"/>
<rect x="156" y="37.8" width="1254.2" height="3.1" fill="#000" fill-opacity="0.4"/>
<rect x="152.8" y="34.5" width="1263.7" height="3.3" fill="#000"/>
<rect x="152.8" y="1785" width="1263.7" height="3" fill="#444"/>
<rect x="152.8" y="1788" width="1263.7" height="2.8" fill="#2a2a2a"/>
<text class="b" transform="translate(114.48 1868.80) scale(0.9716 1)" font-family='"Liberation Sans", sans-serif' font-weight="bold" font-style="normal" font-size="73.29" fill="#000">30</text>
<text class="b" transform="translate(308.80 1868.80) scale(0.9670 1)" font-family='"Liberation Sans", sans-serif' font-weight="bold" font-style="normal" font-size="73.29" fill="#000">40</text>
<text class="b" transform="translate(501.68 1868.80) scale(0.9809 1)" font-family='"Liberation Sans", sans-serif' font-weight="bold" font-style="normal" font-size="73.29" fill="#000">50</text>
<text class="b" transform="translate(695.27 1868.80) scale(0.9856 1)" font-family='"Liberation Sans", sans-serif' font-weight="bold" font-style="normal" font-size="73.29" fill="#000">60</text>
<text class="b" transform="translate(888.86 1868.80) scale(0.9903 1)" font-family='"Liberation Sans", sans-serif' font-weight="bold" font-style="normal" font-size="73.29" fill="#000">70</text>
<text class="b" transform="translate(1083.58 1868.80) scale(0.9809 1)" font-family='"Liberation Sans", sans-serif' font-weight="bold" font-style="normal" font-size="73.29" fill="#000">80</text>
<text class="b" transform="translate(1277.54 1868.80) scale(0.9809 1)" font-family='"Liberation Sans", sans-serif' font-weight="bold" font-style="normal" font-size="73.29" fill="#000">90</text>
<text class="b" transform="translate(559.32 1946.90) scale(0.9347 1)" font-family='"Liberation Sans", sans-serif' font-weight="bold" font-style="normal" font-size="84.71" fill="#000">2</text>
<text transform="translate(608.60 1946.85) scale(0.7926 0.7537)" font-family='"Liberation Sans", sans-serif' font-weight="normal" font-style="normal" font-size="100" fill="#000" stroke="#000" stroke-width="1.0">ϑ</text>
<text class="b" transform="translate(678.31 1946.90) scale(1.0027 1)" font-family='"Liberation Sans", sans-serif' font-weight="bold" font-style="normal" font-size="81.79" fill="#000">(deg)</text>
<g transform="translate(110 1371.6) rotate(-90)">
<text class="b" transform="scale(0.9982 1)" x="-0.42" y="0" font-family='"Liberation Sans", sans-serif' font-weight="bold" font-size="83.51">XRD intensity (a. u.)</text>
</g>
<text class="b" transform="translate(162.31 141.00) scale(1.0178 1)" font-family='"Liberation Sans", sans-serif' font-weight="bold" font-style="normal" font-size="58.76" fill="#000">(d)</text>
<text class="b" transform="translate(159.06 579.30) scale(1.0428 1)" font-family='"Liberation Sans", sans-serif' font-weight="bold" font-style="normal" font-size="58.34" fill="#000">(c)</text>
<text class="b" transform="translate(159.07 1015.30) scale(1.0534 1)" font-family='"Liberation Sans", sans-serif' font-weight="bold" font-style="normal" font-size="57.66" fill="#000">(b)</text>
<text class="b" transform="translate(160.00 1432.70) scale(1.0681 1)" font-family='"Liberation Sans", sans-serif' font-weight="bold" font-style="normal" font-size="58.21" fill="#000">(a)</text>
<text class="b" transform="translate(653.97 88.80) scale(0.9982 1)" font-family='"Liberation Sans", sans-serif' font-weight="bold" font-style="normal" font-size="45.47" fill="#000">S phase</text>
<text transform="translate(984.40 89.84) scale(0.4071 0.4313)" font-family='"Liberation Serif", serif' font-weight="normal" font-style="normal" font-size="100" fill="#000">γ</text>
<text class="b" transform="translate(1014.26 88.70) scale(1.0052 1)" font-family='"Liberation Sans", sans-serif' font-weight="bold" font-style="normal" font-size="45.04" fill="#000">(N,C)</text>
<text transform="translate(1276.10 88.91) scale(0.5426 0.3917)" font-family='"Liberation Serif", serif' font-weight="normal" font-style="normal" font-size="100" fill="#000">α</text>
<text class="b" transform="translate(1305.21 89.00) scale(0.9954 1)" font-family='"Liberation Sans", sans-serif' font-weight="bold" font-style="normal" font-size="45.61" fill="#000">-Fe</text>
<text transform="translate(654.71 146.84) scale(0.4960 0.4563)" font-family='"Liberation Serif", serif' font-weight="normal" font-style="italic" font-size="100" fill="#000">ε</text>
<text class="b" transform="translate(670.83 166.00) scale(0.9672 1)" font-family='"Liberation Sans", sans-serif' font-weight="bold" font-style="normal" font-size="31.37" fill="#000">N</text>
<text transform="translate(688.31 148.72) scale(0.6571 0.4824)" font-family='"Liberation Sans", sans-serif' font-weight="bold" font-style="normal" font-size="100" fill="#000">'</text>
<text transform="translate(984.83 147.65) scale(0.4612 0.4403)" font-family='"Liberation Serif", serif' font-weight="normal" font-style="normal" font-size="100" fill="#000">γ</text>
<text class="b" transform="translate(1004.39 147.10) scale(1.0221 1)" font-family='"Liberation Sans", sans-serif' font-weight="bold" font-style="normal" font-size="45.04" fill="#000">-Fe</text>
<text transform="translate(1268.29 146.91) scale(0.3882 0.4612)" font-family='"Liberation Serif", serif' font-weight="normal" font-style="normal" font-size="100" fill="#000">γ</text>
<text transform="translate(1284.97 147.83) scale(0.4857 0.4667)" font-family='"Liberation Sans", sans-serif' font-weight="bold" font-style="normal" font-size="100" fill="#000">'</text>
<text class="b" transform="translate(1295.72 147.10) scale(0.9895 1)" font-family='"Liberation Sans", sans-serif' font-weight="bold" font-style="normal" font-size="45.61" fill="#000">-M</text>
<text class="b" transform="translate(1348.37 166.00) scale(0.9195 1)" font-family='"Liberation Sans", sans-serif' font-weight="bold" font-style="normal" font-size="31.01" fill="#000">4</text>
<text class="b" transform="translate(1362.46 147.10) scale(1.0591 1)" font-family='"Liberation Sans", sans-serif' font-weight="bold" font-style="normal" font-size="45.61" fill="#000">N</text>
<text class="b" transform="translate(393.23 88.50) scale(1.0231 1)" font-family='"Liberation Sans", sans-serif' font-weight="bold" font-style="normal" font-size="49.28" fill="#000">(111)</text>
<text class="b" transform="translate(401.09 229.50) scale(0.9805 1)" font-family='"Liberation Sans", sans-serif' font-weight="bold" font-style="normal" font-size="50.14" fill="#000">(200)</text>
<text class="b" transform="translate(875.54 349.50) scale(1.0047 1)" font-family='"Liberation Sans", sans-serif' font-weight="bold" font-style="normal" font-size="50.00" fill="#000">(220)</text>
<text class="b" transform="translate(1107.78 360.60) scale(0.9840 1)" font-family='"Liberation Sans", sans-serif' font-weight="bold" font-style="normal" font-size="50.14" fill="#000">(311)</text>
<text class="b" transform="translate(1195.32 284.40) scale(1.0183 1)" font-family='"Liberation Sans", sans-serif' font-weight="bold" font-style="normal" font-size="49.86" fill="#000">(222)</text>
<text class="b" transform="translate(427.94 1411.30) scale(0.9960 1)" font-family='"Liberation Sans", sans-serif' font-weight="bold" font-style="normal" font-size="50.43" fill="#000">(111)</text>
<text class="b" transform="translate(498.24 1520.60) scale(1.0172 1)" font-family='"Liberation Sans", sans-serif' font-weight="bold" font-style="normal" font-size="49.43" fill="#000">(200)</text>
<text class="b" transform="translate(962.23 1400.80) scale(1.0316 1)" font-family='"Liberation Sans", sans-serif' font-weight="bold" font-style="normal" font-size="49.00" fill="#000">(220)</text>
<text class="b" transform="translate(1266.75 1446.00) scale(1.0245 1)" font-family='"Liberation Sans", sans-serif' font-weight="bold" font-style="normal" font-size="48.86" fill="#000">(311)</text>
</svg>
</body></html>
